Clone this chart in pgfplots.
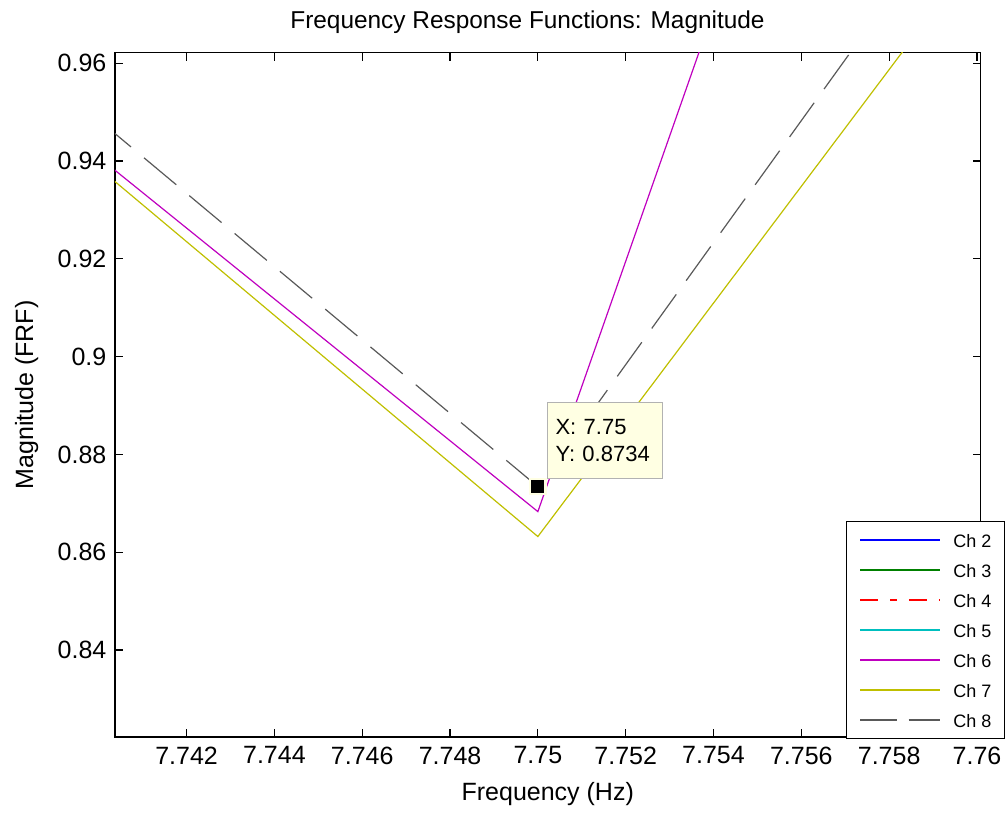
\documentclass[border=0pt]{standalone}
\usepackage{fontspec}
\setmainfont{Liberation Sans}
\usepackage{pgfplots}
\pgfplotsset{compat=1.18}
\definecolor{matblue}{rgb}{0,0,1}
\definecolor{matgreen}{rgb}{0,0.5,0}
\definecolor{matred}{rgb}{1,0,0}
\definecolor{matcyan}{rgb}{0,0.75,0.75}
\definecolor{matmagenta}{rgb}{0.75,0,0.75}
\definecolor{matyellow}{rgb}{0.75,0.75,0}
\definecolor{matgray}{rgb}{0.35,0.35,0.35}
\definecolor{tipfill}{rgb}{1,1,0.89}
\definecolor{tipedge}{rgb}{0.7,0.7,0.7}
\begin{document}
\begin{tikzpicture}
\begin{axis}[
  at={(0,0)}, anchor=south west,
  scale only axis, width=432.75pt, height=342.15pt,
  xmin=7.74037, xmax=7.76008, ymin=0.8222, ymax=0.96217,
  xtick={7.742,7.744,7.746,7.748,7.75,7.752,7.754,7.756,7.758,7.76},
  xticklabels={7.742,7.744,7.746,7.748,7.75,7.752,7.754,7.756,7.758,7.76},
  ytick={0.84,0.86,0.88,0.9,0.92,0.94,0.96},
  yticklabels={0.84,0.86,0.88,0.9,0.92,0.94,0.96},
  scaled ticks=false,
  /pgf/number format/assume math mode=true,
  tick align=inside, major tick length=4pt,
  tick style={black, line width=0.6pt},
  axis line style={black, line width=0.6pt},
  ticklabel style={font=\fontsize{12.5}{14}\selectfont},
  xticklabel shift=1.3pt, yticklabel shift=0.8pt,
  title={Frequency Response Functions: Magnitude},
  title style={at={(axis description cs:0.4766,1.0182)}, anchor=base, font=\fontsize{12.2}{14}\selectfont},
  xlabel={Frequency (Hz)},
  x label style={at={(axis description cs:0.5,-0.0921)}, anchor=base, font=\fontsize{12.5}{14}\selectfont},
  ylabel={Magnitude (FRF)},
  y label style={at={(axis description cs:-0.0947,0.5)}, anchor=base, font=\fontsize{12.5}{14}\selectfont},
  legend image code/.code={\draw[#1] (0pt,0pt) -- (40pt,0pt);},
  legend cell align=left,
  legend style={at={(axis description cs:1,0)}, anchor=south east, xshift=12.25pt, yshift=-1.15pt,
    draw=black, line width=0.6pt, fill=white, font=\fontsize{9}{10}\selectfont,
    inner xsep=6.5pt, inner ysep=2.75pt, row sep=2pt, column sep=6pt,
    nodes={inner xsep=0pt, inner ysep=3pt, text height=7pt, text depth=0pt}},
]
% visible channels
\addplot[forget plot, draw=matmagenta, line width=0.6pt] coordinates {(7.74,0.9408) (7.75,0.8683) (7.76,1.1243)};
\addplot[forget plot, draw=matyellow, line width=0.6pt] coordinates {(7.74,0.9386) (7.75,0.8632) (7.76,0.9826)};
\addplot[forget plot, draw=matgray, line width=0.6pt, dash pattern=on 21pt off 8.5pt] coordinates {(7.74,0.9484) (7.75,0.8734) (7.76,0.9982)};
% data tip
\addplot[forget plot, only marks, mark=square*, mark size=3.8pt, mark options={fill=black, draw=tipfill, line width=1.2pt}] coordinates {(7.75,0.8734)};
\node[anchor=south west, draw=tipedge, fill=tipfill, line width=0.6pt, minimum height=38pt, inner xsep=4.2pt, inner ysep=0pt,
  text width=49.1pt, align=left, xshift=4.35pt, yshift=3.9pt, font=\fontsize{11}{13.7}\selectfont]
  at (axis cs:7.75,0.8734) {X: 7.75\\Y: 0.8734};
% legend
\addlegendimage{draw=matblue, line width=1pt}
\addlegendentry{Ch 2}
\addlegendimage{draw=matgreen, line width=1pt}
\addlegendentry{Ch 3}
\addlegendimage{draw=matred, line width=1pt, dash pattern=on 9pt off 6pt on 3.3pt off 6pt}
\addlegendentry{Ch 4}
\addlegendimage{draw=matcyan, line width=1pt}
\addlegendentry{Ch 5}
\addlegendimage{draw=matmagenta, line width=1pt}
\addlegendentry{Ch 6}
\addlegendimage{draw=matyellow, line width=1pt}
\addlegendentry{Ch 7}
\addlegendimage{draw=matgray, line width=1pt, dash pattern=on 18.3pt off 5.8pt}
\addlegendentry{Ch 8}
\end{axis}
\pgfresetboundingbox
\path[use as bounding box] (-57.5pt,-38.5pt) rectangle (446.5pt,368.5pt);
\end{tikzpicture}
\end{document}
